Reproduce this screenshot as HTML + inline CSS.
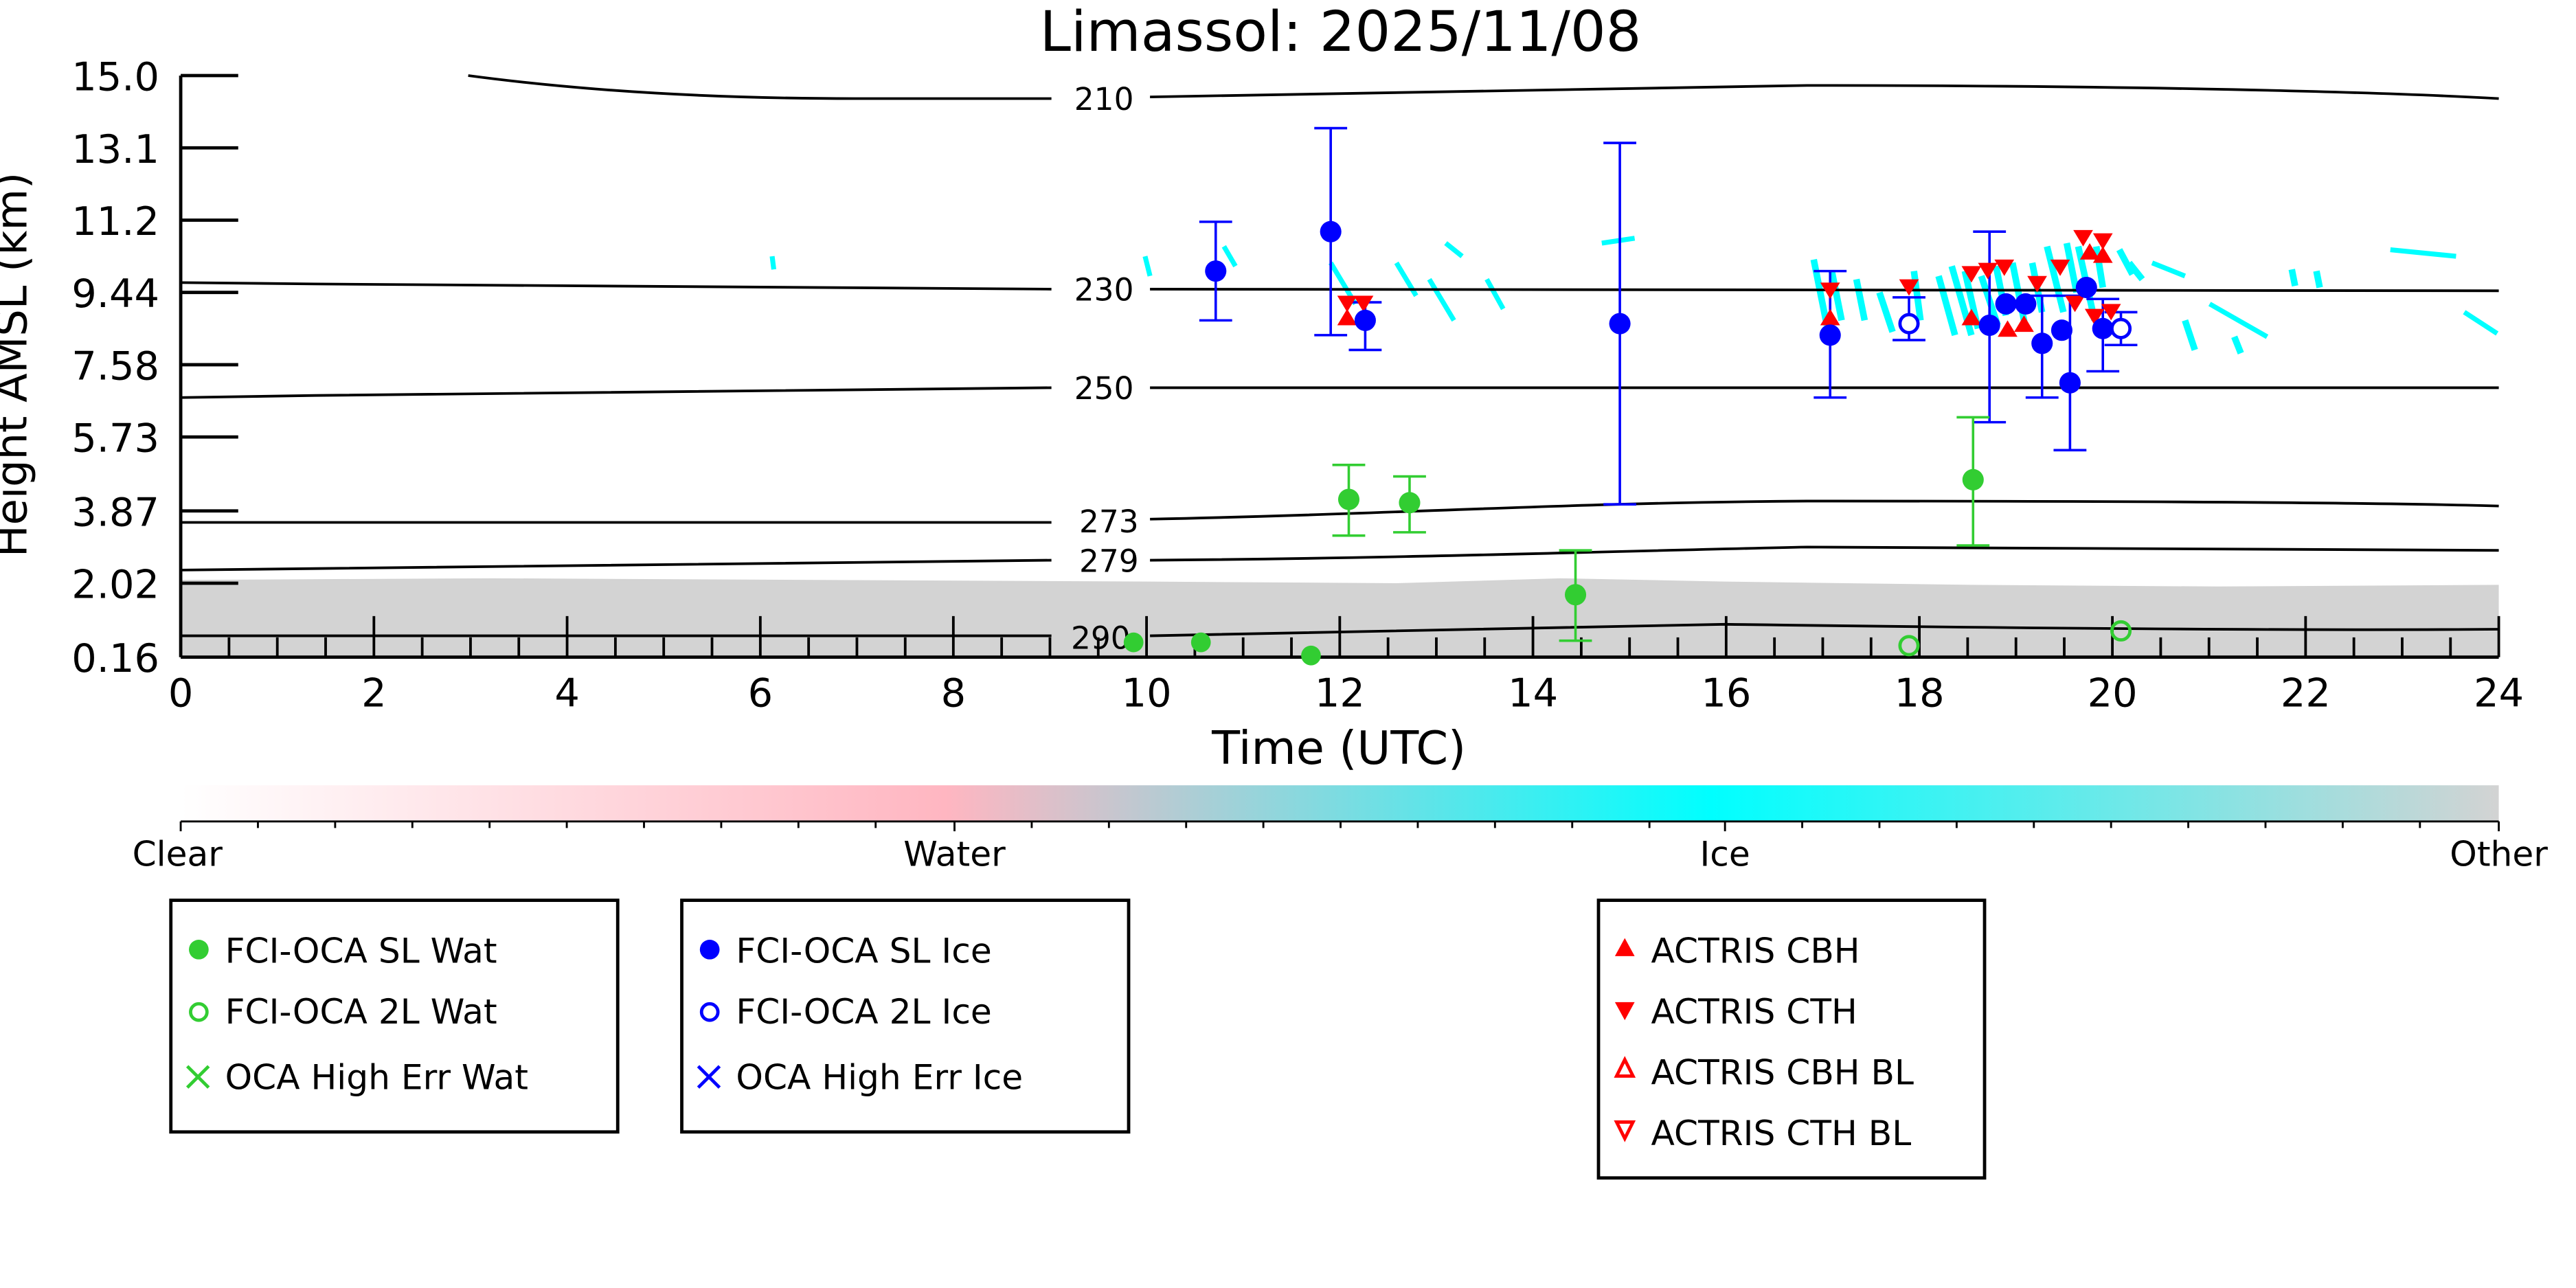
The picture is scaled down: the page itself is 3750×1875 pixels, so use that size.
<!DOCTYPE html>
<html><head><meta charset="utf-8"><style>html,body{margin:0;padding:0;background:#fff}svg{display:block}</style></head>
<body>
<svg xmlns="http://www.w3.org/2000/svg" width="3750" height="1875" viewBox="0 0 1568 784" font-family="'DejaVu Sans','Liberation Sans',sans-serif">
<defs>
<linearGradient id="cb" x1="0" x2="1" y1="0" y2="0">
<stop offset="0" stop-color="#ffffff"/>
<stop offset="0.33" stop-color="#ffb6c1"/>
<stop offset="0.66" stop-color="#00ffff"/>
<stop offset="1" stop-color="#d3d3d3"/>
</linearGradient>
</defs>
<rect width="1568" height="784" fill="#fff"/>
<text x="816" y="31" font-size="34" text-anchor="middle">Limassol: 2025/11/08</text>
<path d="M110,353 L300,352 L500,353 L700,354 L850,355 L950,352 L1050,354 L1200,356 L1350,357 L1521,356 L1521,400 L110,400 Z" fill="#d3d3d3"/>
<g fill="#00ffff" stroke="#00ffff" stroke-width="3">
<line x1="470" y1="156" x2="471" y2="164"/>
<line x1="697" y1="156" x2="700" y2="168"/>
<line x1="745" y1="150" x2="752" y2="162"/>
<line x1="810" y1="160" x2="825" y2="185"/>
<line x1="850" y1="160" x2="862" y2="180"/>
<line x1="870" y1="170" x2="885" y2="195"/>
<line x1="905" y1="170" x2="915" y2="188"/>
<line x1="880" y1="148" x2="890" y2="156"/>
<line x1="975" y1="148" x2="995" y2="145"/>
<line x1="1310" y1="160" x2="1330" y2="168"/>
<line x1="1345" y1="185" x2="1380" y2="205"/>
<line x1="1455" y1="152" x2="1495" y2="156"/>
<line x1="1500" y1="190" x2="1520" y2="203"/>
</g>
<g stroke="#00ffff" stroke-width="4" fill="none">
<path d="M1104,158l8,40M1115,165l6,30M1130,170l5,25M1144,178l8,24M1165,165l4,30M1180,168l10,36M1188,162l12,42M1196,165l8,35M1206,168l10,30M1215,162l6,30M1225,160l8,40M1237,160l6,30M1246,150l10,40M1258,148l6,30M1265,150l10,45M1276,150l4,25M1290,152l8,15M1296,160l8,10M1330,195l6,18M1360,205l4,10M1395,164l2,10M1410,165l2,10"/>
</g>
<g fill="none" stroke="#000" stroke-width="1.6">
<path d="M285,46 C360,56 440,60 520,60 L640,60"/><path d="M700,59 C850,56 1000,53 1100,52 C1300,52 1450,56 1521,60"/>
<path d="M110,172 C300,174 500,176 640,176"/><path d="M700,176 L1521,177"/>
<path d="M110,242 C300,239 500,236 640,236"/><path d="M700,236 L1521,236"/>
<path d="M110,318 L640,318"/><path d="M700,316 C850,313 950,306 1100,305 C1300,305 1450,306 1521,308"/>
<path d="M110,347 C300,345 500,342 640,341"/><path d="M700,341 C850,340 1000,335 1100,333 C1300,334 1450,335 1521,335"/>
<path d="M110,387 L640,387"/><path d="M700,387 C850,385 950,381 1050,380 C1200,382 1400,384 1521,383"/>
</g>
<g font-size="19" text-anchor="middle">
<text x="672" y="67">210</text><text x="672" y="183">230</text><text x="672" y="243">250</text>
<text x="675" y="324">273</text><text x="675" y="348">279</text><text x="670" y="395">290</text>
</g>
<g stroke="#000" stroke-width="2" fill="none">
<line x1="110" y1="46" x2="110" y2="400"/><line x1="110" y1="400" x2="1521" y2="400"/>
<path d="M110,46h35M110,90h35M110,134h35M110,178h35M110,222h35M110,266h35M110,311h35M110,355h35"/>
</g>
<g stroke="#000" stroke-width="1.6">
<path d="M110,400v-25M227.6,400v-25M345.2,400v-25M462.8,400v-25M580.3,400v-25M697.9,400v-25M815.5,400v-25M933.1,400v-25M1050.7,400v-25M1168.3,400v-25M1285.8,400v-25M1403.4,400v-25M1521,400v-25"/>
<path d="M139.4,400v-12M168.8,400v-12M198.2,400v-12M257,400v-12M286.4,400v-12M315.8,400v-12M374.6,400v-12M404,400v-12M433.4,400v-12M492.2,400v-12M521.6,400v-12M551,400v-12M609.7,400v-12M639.1,400v-12M668.5,400v-12M727.3,400v-12M756.7,400v-12M786.1,400v-12M844.9,400v-12M874.3,400v-12M903.7,400v-12M962.5,400v-12M991.9,400v-12M1021.3,400v-12M1080.1,400v-12M1109.5,400v-12M1138.9,400v-12M1197.7,400v-12M1227.1,400v-12M1256.5,400v-12M1315.2,400v-12M1344.6,400v-12M1374,400v-12M1432.8,400v-12M1462.2,400v-12M1491.6,400v-12"/>
</g>
<g font-size="24" text-anchor="end">
<text x="97" y="55">15.0</text><text x="97" y="99">13.1</text><text x="97" y="143">11.2</text><text x="97" y="187">9.44</text><text x="97" y="231">7.58</text><text x="97" y="275">5.73</text><text x="97" y="320">3.87</text><text x="97" y="364">2.02</text><text x="97" y="409">0.16</text>
</g>
<g font-size="24" text-anchor="middle">
<text x="110" y="430">0</text><text x="227.6" y="430">2</text><text x="345.2" y="430">4</text><text x="462.8" y="430">6</text><text x="580.3" y="430">8</text><text x="697.9" y="430">10</text><text x="815.5" y="430">12</text><text x="933.1" y="430">14</text><text x="1050.7" y="430">16</text><text x="1168.3" y="430">18</text><text x="1285.8" y="430">20</text><text x="1403.4" y="430">22</text><text x="1521" y="430">24</text>
<text x="815" y="465" font-size="28">Time (UTC)</text>
<text transform="translate(16,222) rotate(-90)" font-size="26">Height AMSL (km)</text>
</g>
<g stroke="#0000ff" stroke-width="1.5" fill="none">
<path d="M740,135V195M730,135h20M730,195h20"/>
<path d="M810,78V204M800,78h20M800,204h20"/>
<path d="M831,184V213M821,184h20M821,213h20"/>
<path d="M986,87V307M976,87h20M976,307h20"/>
<path d="M1114,165V242M1104,165h20M1104,242h20"/>
<path d="M1162,181V207M1152,181h20M1152,207h20"/>
<path d="M1211,141V257M1201,141h20M1201,257h20"/>
<path d="M1243,180V242M1233,180h20M1233,242h20"/>
<path d="M1260,180V274M1250,180h20M1250,274h20"/>
<path d="M1280,182V226M1270,182h20M1270,226h20"/>
<path d="M1291,190V210M1281,190h20M1281,210h20"/>
</g>
<g stroke="#32cd32" stroke-width="1.5" fill="none">
<path d="M821,283V326M811,283h20M811,326h20"/>
<path d="M858,290V324M848,290h20M848,324h20"/>
<path d="M959,335V390M949,335h20M949,390h20"/>
<path d="M1201,254V332M1191,254h20M1191,332h20"/>
</g>
<g fill="#ff0000">
<path d="M820,188l-6,10h12z"/><path d="M820,190l-6,-10h12z"/><path d="M830,190l-6,-10h12z"/>
<path d="M1114,188l-6,10h12z"/><path d="M1114,182l-6,-10h12z"/>
<path d="M1162,180l-6,-10h12z"/>
<path d="M1200,188l-6,10h12z"/><path d="M1200,172l-6,-10h12z"/><path d="M1210,170l-6,-10h12z"/><path d="M1220,168l-6,-10h12z"/>
<path d="M1222,195l-6,10h12z"/><path d="M1232,192l-6,10h12z"/><path d="M1240,178l-6,-10h12z"/><path d="M1254,168l-6,-10h12z"/>
<path d="M1263,190l-6,-10h12z"/><path d="M1268,150l-6,-10h12z"/><path d="M1280,152l-6,-10h12z"/><path d="M1272,148l-6,10h12z"/><path d="M1280,150l-6,10h12z"/>
<path d="M1275,198l-6,-10h12z"/><path d="M1285,195l-6,-10h12z"/>
</g>
<g fill="#0000ff">
<circle cx="740" cy="165" r="6.5"/><circle cx="810" cy="141" r="6.5"/><circle cx="831" cy="195" r="6.5"/><circle cx="986" cy="197" r="6.5"/>
<circle cx="1114" cy="204" r="6.5"/><circle cx="1211" cy="198" r="6.5"/><circle cx="1221" cy="185" r="6.5"/><circle cx="1233" cy="185" r="6.5"/>
<circle cx="1243" cy="209" r="6.5"/><circle cx="1255" cy="201" r="6.5"/><circle cx="1260" cy="233" r="6.5"/><circle cx="1270" cy="175" r="6.5"/><circle cx="1280" cy="200" r="6.5"/>
</g>
<g fill="#fff" stroke="#0000ff" stroke-width="2"><circle cx="1162" cy="197" r="5.5"/><circle cx="1291" cy="200" r="5.5"/></g>
<g fill="#32cd32">
<circle cx="821" cy="304" r="6.5"/><circle cx="858" cy="306" r="6.5"/><circle cx="959" cy="362" r="6.5"/><circle cx="1201" cy="292" r="6.5"/>
<circle cx="690" cy="391" r="6"/><circle cx="731" cy="391" r="6"/><circle cx="798" cy="399" r="6"/>
</g>
<g fill="none" stroke="#32cd32" stroke-width="2"><circle cx="1162" cy="393" r="5.5"/><circle cx="1291" cy="384" r="5.5"/></g>
<rect x="110" y="478" width="1411" height="22" fill="url(#cb)"/>
<g stroke="#000" stroke-width="1.2"><line x1="110" y1="500" x2="1521" y2="500"/>
<path d="M110,500v6M157,500v4M204,500v4M251,500v4M298,500v4M345,500v4M392,500v4M439,500v4M486,500v4M533,500v4M581,500v6M628,500v4M675,500v4M722,500v4M769,500v4M816,500v4M863,500v4M910,500v4M957,500v4M1004,500v4M1050,500v6M1097,500v4M1144,500v4M1191,500v4M1238,500v4M1285,500v4M1332,500v4M1379,500v4M1426,500v4M1473,500v4M1521,500v6"/></g>
<g font-size="21" text-anchor="middle"><text x="108" y="527">Clear</text><text x="581" y="527">Water</text><text x="1050" y="527">Ice</text><text x="1521" y="527">Other</text></g>
<g fill="none" stroke="#000" stroke-width="2">
<rect x="104" y="548" width="272" height="141"/><rect x="415" y="548" width="272" height="141"/><rect x="973" y="548" width="235" height="169"/>
</g>
<g font-size="21">
<circle cx="121" cy="578" r="6" fill="#32cd32"/><text x="137" y="586">FCI-OCA SL Wat</text>
<circle cx="121" cy="616" r="5" fill="none" stroke="#32cd32" stroke-width="2"/><text x="137" y="623">FCI-OCA 2L Wat</text>
<path d="M114,649l13,13M127,649l-13,13" stroke="#32cd32" stroke-width="2"/><text x="137" y="663">OCA High Err Wat</text>
<circle cx="432" cy="578" r="6" fill="#0000ff"/><text x="448" y="586">FCI-OCA SL Ice</text>
<circle cx="432" cy="616" r="5" fill="none" stroke="#0000ff" stroke-width="2"/><text x="448" y="623">FCI-OCA 2L Ice</text>
<path d="M425,649l13,13M438,649l-13,13" stroke="#0000ff" stroke-width="2"/><text x="448" y="663">OCA High Err Ice</text>
<path d="M989,571l-6,11h12z" fill="#ff0000"/><text x="1005" y="586">ACTRIS CBH</text>
<path d="M989,621l-6,-11h12z" fill="#ff0000"/><text x="1005" y="623">ACTRIS CTH</text>
<path d="M989,645l-5,10h10z" fill="none" stroke="#ff0000" stroke-width="2"/><text x="1005" y="660">ACTRIS CBH BL</text>
<path d="M989,693l-5,-10h10z" fill="none" stroke="#ff0000" stroke-width="2"/><text x="1005" y="697">ACTRIS CTH BL</text>
</g>
</svg>
</body></html>
